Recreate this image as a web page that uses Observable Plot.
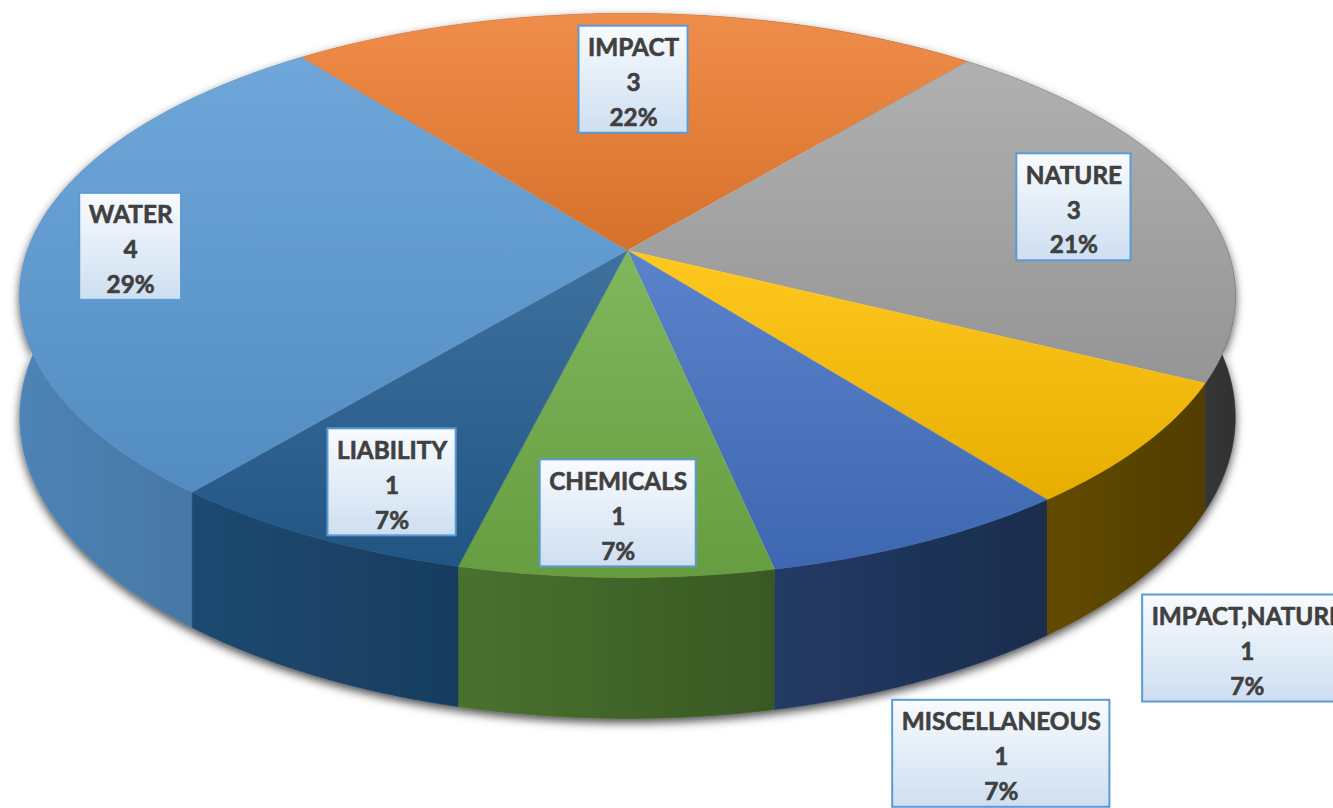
<!DOCTYPE html>
<html>
<head>
<meta charset="utf-8">
<script src="https://cdn.jsdelivr.net/npm/d3@7"></script>
<script src="https://cdn.jsdelivr.net/npm/@observablehq/plot@0.6"></script>
<style>
  html, body { margin: 0; padding: 0; background: #fff; overflow: hidden; }
  #chart svg { display: block; }
</style>
</head>
<body>
<div id="chart"></div>
<script>
// ---------- data ----------
const categories = ["WATER", "IMPACT", "NATURE", "IMPACT,NATURE", "MISCELLANEOUS", "CHEMICALS", "LIABILITY"];
const counts = [4, 3, 3, 1, 1, 1, 1];
const percents = ["29%", "22%", "21%", "7%", "7%", "7%", "7%"];

// ---------- styles / layout ----------
const baseColors = ["#5B9BD5", "#ED7D31", "#A5A5A5", "#FFC000", "#4472C4", "#70AD47", "#255E91"];
const labelRadius = [0.83, 0.69, 0.78, 1.445, 1.497, 0.83, 0.82];
const labelTurn = [0, 0, 0, -15, -6, 0, 1.7];
const firstSliceAngle = 219.5; // clockwise from 12 o'clock

const W = 1333, H = 808;
const view = { cx: 627, cy: 250, a: 600, b: 274.8, k: 0.1596, depth: 118.5 };

function project(r, deg, z) {
  const t = deg * Math.PI / 180;
  const u = r * Math.cos(t), v = r * Math.sin(t);
  const w = 1 + view.k * v;
  return [view.cx + view.a * u / w, view.cy - (view.b * v + view.depth * z) / w];
}

const total = d3.sum(counts);
const startMath = 90 - firstSliceAngle;
let cum = 0;
const slices = categories.map((cat, i) => {
  const a0 = startMath - cum / total * 360;
  cum += counts[i];
  const a1 = startMath - cum / total * 360;
  return { i, cat, a0, a1, mid: (a0 + a1) / 2 };
});

function arc(a0, a1, r, z) {
  const n = Math.max(2, Math.ceil(Math.abs(a1 - a0) / 0.5));
  return d3.range(n + 1).map(j => project(r, a0 + (a1 - a0) * j / n, z));
}

const sidePts = slices.flatMap(s =>
  [...arc(s.a0, s.a1, 1, 0), ...arc(s.a1, s.a0, 1, -1)]
    .map(([x, y]) => ({ key: s.cat, x, y, fill: `url(#side${s.i})` })));
const topPts = slices.flatMap(s =>
  [project(0, 0, 0), ...arc(s.a0, s.a1, 1, 0)]
    .map(([x, y]) => ({ key: s.cat, x, y, fill: `url(#top${s.i})` })));

// ---------- label sizing ----------
const fontFamily = "Lato, 'Liberation Sans', sans-serif";
const ctx = document.createElement("canvas").getContext("2d");
ctx.font = `bold 100px ${fontFamily}`;
const emRef = ctx.measureText("IMPACTNATURECHEMICALS").width / 100;
const fontSize = Math.max(20, Math.min(28, 325 / emRef));
ctx.font = `bold ${fontSize}px ${fontFamily}`;
const lineGap = 35;
const boxH = 107;

const labels = slices.map(s => {
  const [x, y] = project(labelRadius[s.i], s.mid + labelTurn[s.i], 0);
  const lines = [s.cat, String(counts[s.i]), percents[s.i]];
  const tw = d3.max(lines, l => ctx.measureText(l).width);
  const half = tw / 2 + 9;
  return {
    x, y, x1: x - half, x2: x + half, y1: y - boxH / 2, y2: y + boxH / 2,
    text: lines.join("\n")
  };
});

// ---------- plot ----------
const plot = Plot.plot({
  width: W, height: H,
  margin: 0,
  style: { background: "#fff", overflow: "hidden" },
  x: { domain: [0, W], range: [0, W], axis: null },
  y: { domain: [0, H], range: [0, H], axis: null },
  color: { type: "identity" },
  marks: [
    Plot.line(sidePts, { x: "x", y: "y", z: "key", fill: "fill", stroke: "fill", strokeWidth: 0.6, curve: "linear" }),
    Plot.line(topPts, { x: "x", y: "y", z: "key", fill: "fill", stroke: "fill", strokeWidth: 0.6, curve: "linear" }),
    Plot.rect(labels, { x1: "x1", x2: "x2", y1: "y1", y2: "y2", fill: "url(#lblGrad)", stroke: "#5B9BD5", strokeWidth: 2 }),
    Plot.text(labels, {
      x: "x", y: "y", text: "text",
      fontSize, fontWeight: "bold", fontFamily,
      lineHeight: lineGap / fontSize,
      fill: "#404040", stroke: "#404040", strokeWidth: 0.6,
      textAnchor: "middle"
    })
  ]
});

// gradients and shadow
const mix = (c, t, f) => d3.interpolateRgb(c, t)(f);
const scaleC = (c, f) => { const r = d3.rgb(c); return d3.rgb(r.r * f, r.g * f, r.b * f).formatHex(); };
let defs = "";
baseColors.forEach((c, i) => {
  defs += `<linearGradient id="top${i}" x1="0" y1="0" x2="0" y2="1">
    <stop offset="0" stop-color="${mix(c, "#ffffff", 0.12)}"/>
    <stop offset="1" stop-color="${d3.color(c).darker(0.28).formatHex()}"/></linearGradient>`;
  defs += `<linearGradient id="side${i}" gradientUnits="userSpaceOnUse" x1="0" y1="0" x2="${W}" y2="0">
    <stop offset="0" stop-color="${scaleC(c, 0.86)}"/>
    <stop offset="1" stop-color="${scaleC(c, 0.26)}"/></linearGradient>`;
});
defs += `<linearGradient id="lblGrad" x1="0" y1="0" x2="0" y2="1">
  <stop offset="0" stop-color="#F8FBFE"/><stop offset="1" stop-color="#CEDFF1"/></linearGradient>
  <filter id="pieShadow" x="-5%" y="-5%" width="110%" height="125%">
    <feDropShadow dx="0" dy="4" stdDeviation="5" flood-color="#000" flood-opacity="0.7"/></filter>`;
const defsEl = document.createElementNS("http://www.w3.org/2000/svg", "defs");
defsEl.innerHTML = defs;
plot.insertBefore(defsEl, plot.firstChild);
const lineGroups = plot.querySelectorAll('g[aria-label="line"]');
if (lineGroups.length) lineGroups[0].setAttribute("filter", "url(#pieShadow)");

document.getElementById("chart").appendChild(plot);
</script>
</body>
</html>
